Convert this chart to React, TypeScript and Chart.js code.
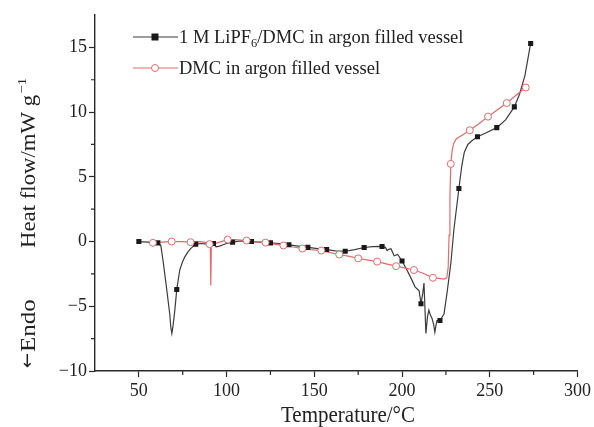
import React, { useEffect, useRef } from "react";
import { Chart, registerables } from "chart.js";

Chart.register(...registerables);

// ---- Data ----
const blackX = [50, 55, 60.8, 62.5, 63.8, 65.7, 67.6, 68.2, 68.8, 69.5, 70.5, 71.6, 73.3, 74.8, 76.1, 78, 79.5, 82.4, 86, 89, 91, 92.5, 94, 96, 98, 100, 103.4, 108, 114.2, 119, 125, 130, 135.5, 141, 146.3, 152, 157, 162, 167.6, 173, 178.4, 183, 188.6, 190.5, 191.5, 192.5, 193.7, 195.5, 197.5, 200, 202.8, 205.7, 207.4, 209.7, 210.8, 211.8, 212.5, 213.6, 214.5, 215.3, 216.2, 217, 218, 218.7, 219.3, 219.9, 221.6, 223.9, 225.6, 227.8, 229.5, 232.4, 234, 235.5, 237.5, 240, 243, 248, 254, 259, 264, 267, 270, 273.3];
const blackY = [0, -0.05, -0.1, -0.3, -1.5, -3.5, -5.6, -6.6, -7.1, -6.5, -5.3, -3.7, -2.2, -1.6, -1.2, -0.8, -0.55, -0.2, -0.15, -0.2, -0.3, -0.15, -0.4, -0.35, -0.25, -0.15, -0.05, 0.05, 0.0, -0.05, -0.1, -0.15, -0.25, -0.35, -0.45, -0.55, -0.62, -0.72, -0.75, -0.62, -0.46, -0.4, -0.38, -0.45, -0.7, -0.6, -0.55, -1.1, -1.0, -1.5, -2.2, -3.0, -3.5, -3.8, -4.8, -4.0, -3.2, -7.1, -5.8, -5.3, -5.7, -5.9, -6.4, -7.0, -6.5, -6.1, -6.1, -5.6, -4.0, -1.7, 0.85, 4.1, 5.8, 6.9, 7.5, 7.8, 8.1, 8.4, 8.8, 9.4, 10.4, 11.4, 12.8, 15.3];

const blackMarkX = [50, 60.8, 71.6, 82.4, 92.5, 103.4, 114.2, 125, 135.5, 146.3, 157, 167.6, 178.4, 188.6, 200, 210.8, 221.6, 232.4, 243, 254, 264, 273.3];
const blackMarkY = [0, -0.1, -3.7, -0.2, -0.15, -0.05, 0.0, -0.1, -0.25, -0.45, -0.62, -0.75, -0.46, -0.38, -1.5, -4.8, -6.1, 4.1, 8.1, 8.8, 10.4, 15.3];

const redX = [56, 58, 63, 68.7, 74, 79.5, 85, 89.5, 90.3, 90.7, 91.0, 91.3, 92.5, 96, 100.6, 105, 111.4, 116, 122.2, 127, 132.4, 138, 143.2, 148, 154, 159, 164.2, 170, 175, 180, 185.8, 191, 196.6, 202, 206.8, 212, 217.6, 221, 224, 225.5, 226.3, 226.8, 227.3, 227.8, 228.5, 229.5, 231, 234, 238.6, 243.8, 249, 254, 259.7, 265, 270.5];
const redY = [-0.1, -0.1, -0.05, 0.0, 0.0, -0.05, 0.0, -0.1, -0.2, -0.3, -3.4, -0.4, -0.2, -0.05, 0.15, 0.15, 0.08, 0.0, -0.08, -0.2, -0.3, -0.42, -0.54, -0.62, -0.7, -0.85, -1.0, -1.15, -1.3, -1.42, -1.55, -1.72, -1.9, -2.05, -2.2, -2.45, -2.8, -2.85, -2.9, -2.8, -2.0, 0.5, 3.5, 6.0, 7.0, 7.6, 7.95, 8.2, 8.6, 9.1, 9.65, 10.15, 10.7, 11.3, 11.9];

const redMarkX = [58, 68.7, 79.5, 90.3, 100.6, 111.4, 122.2, 132.4, 143.2, 154, 164.2, 175, 185.8, 196.6, 206.8, 217.6, 227.8, 238.6, 249, 259.7, 270.5];
const redMarkY = [-0.1, 0.0, -0.05, -0.2, 0.15, 0.08, -0.08, -0.3, -0.54, -0.7, -1.0, -1.3, -1.55, -1.9, -2.2, -2.8, 6.0, 8.6, 9.65, 10.7, 11.9];

const xMajorTicks = [50, 100, 150, 200, 250, 300];
const xMinorTicks = [75, 125, 175, 225, 275];
const yMajorTicks = [-10, -5, 0, 5, 10, 15];
const yMinorTicks = [-7.5, -2.5, 2.5, 7.5, 12.5];

const seriesNames = ["1 M LiPF", "6", "/DMC in argon filled vessel", "DMC in argon filled vessel"];
const xTitle = "Temperature/°C";
const yTitle = "Heat flow/mW g";
const yTitleSup = "\u22121";
const endoArrow = "\u2190";
const endoText = "Endo";

const BLACK = "#1a1a1a";
const LINE_BLACK = "#3c3c3c";
const RED = "#e46a6a";
const AXIS = "#2a2a2a";
const FONT = "'Liberation Serif', 'Times New Roman', serif";

const toXY = (xs: number[], ys: number[]) => xs.map((x, i) => ({ x, y: ys[i] }));

const decorPlugin = {
  id: "decor",
  afterDraw(chart: any) {
    const ctx = chart.ctx as CanvasRenderingContext2D;
    const xs = chart.scales.x;
    const ys = chart.scales.y;
    const area = chart.chartArea;
    ctx.save();
    // minor ticks
    ctx.strokeStyle = AXIS;
    ctx.lineWidth = 1.2;
    ctx.beginPath();
    xMinorTicks.forEach((v) => {
      const px = xs.getPixelForValue(v);
      ctx.moveTo(px, area.bottom);
      ctx.lineTo(px, area.bottom + 4);
    });
    yMinorTicks.forEach((v) => {
      const py = ys.getPixelForValue(v);
      ctx.moveTo(area.left, py);
      ctx.lineTo(area.left - 4, py);
    });
    ctx.stroke();

    // x title (slightly stretched vertically, like the reference)
    ctx.fillStyle = "#222";
    ctx.save();
    ctx.translate(348, 422);
    ctx.scale(1, 1.12);
    ctx.font = `21px ${FONT}`;
    ctx.textAlign = "center";
    ctx.textBaseline = "alphabetic";
    ctx.fillText(xTitle, 0, 0);
    ctx.restore();

    // y title (rotated, stretched along its length)
    ctx.save();
    ctx.translate(35, 248);
    ctx.rotate(-Math.PI / 2);
    ctx.scale(1.14, 1);
    ctx.textAlign = "left";
    ctx.textBaseline = "alphabetic";
    ctx.font = `20px ${FONT}`;
    const w1 = ctx.measureText(yTitle).width;
    ctx.fillText(yTitle, 0, 0);
    ctx.font = `13px ${FONT}`;
    ctx.fillText(yTitleSup, w1 + 1, -9);
    ctx.restore();

    // Endo label
    ctx.save();
    ctx.translate(35, 368);
    ctx.rotate(-Math.PI / 2);
    ctx.textAlign = "left";
    ctx.textBaseline = "alphabetic";
    ctx.font = `18px 'DejaVu Sans', sans-serif`;
    const wa = ctx.measureText(endoArrow).width;
    ctx.fillText(endoArrow, 0, -2);
    ctx.translate(wa + 1, 0);
    ctx.scale(1.25, 1);
    ctx.font = `20px ${FONT}`;
    ctx.fillText(endoText, 0, 0);
    ctx.restore();

    // legend
    const lx0 = 133, lx1 = 178, mx = 155, tx = 179;
    const rows = [37, 68];
    ctx.lineWidth = 1.2;
    ctx.strokeStyle = LINE_BLACK;
    ctx.beginPath();
    ctx.moveTo(lx0, rows[0]);
    ctx.lineTo(lx1, rows[0]);
    ctx.stroke();
    ctx.fillStyle = BLACK;
    ctx.fillRect(mx - 3.5, rows[0] - 3.5, 7, 7);
    ctx.strokeStyle = RED;
    ctx.beginPath();
    ctx.moveTo(lx0, rows[1]);
    ctx.lineTo(lx1, rows[1]);
    ctx.stroke();
    ctx.fillStyle = "#fff";
    ctx.beginPath();
    ctx.arc(mx, rows[1], 3.5, 0, Math.PI * 2);
    ctx.fill();
    ctx.lineWidth = 1;
    ctx.stroke();

    ctx.fillStyle = "#222";
    ctx.textAlign = "left";
    ctx.textBaseline = "alphabetic";
    ctx.font = `18.5px ${FONT}`;
    const b0 = rows[0] + 6;
    ctx.fillText(seriesNames[0], tx, b0);
    let cx = tx + ctx.measureText(seriesNames[0]).width;
    ctx.font = `12.5px ${FONT}`;
    ctx.fillText(seriesNames[1], cx, b0 + 4);
    cx += ctx.measureText(seriesNames[1]).width;
    ctx.font = `18.5px ${FONT}`;
    ctx.fillText(seriesNames[2], cx, b0);
    ctx.fillText(seriesNames[3], tx, rows[1] + 6);
    ctx.restore();
  },
};

export default function App() {
  const ref = useRef<HTMLCanvasElement>(null);
  useEffect(() => {
    if (!ref.current) return;
    const chart = new Chart(ref.current, {
      type: "scatter",
      data: {
        datasets: [
          {
            label: "red markers",
            data: toXY(redMarkX, redMarkY),
            showLine: false,
            pointStyle: "circle",
            pointRadius: 3.5,
            pointBackgroundColor: "#fff",
            pointBorderColor: RED,
            pointBorderWidth: 1,
          },
          {
            label: "black markers",
            data: toXY(blackMarkX, blackMarkY),
            showLine: false,
            pointStyle: "rect",
            pointRadius: 3.6,
            pointBackgroundColor: BLACK,
            pointBorderColor: BLACK,
            pointBorderWidth: 0,
          },
          {
            label: seriesNames[3],
            data: toXY(redX, redY),
            showLine: true,
            borderColor: RED,
            borderWidth: 1.2,
            pointRadius: 0,
            tension: 0,
          },
          {
            label: seriesNames[0] + seriesNames[1] + seriesNames[2],
            data: toXY(blackX, blackY),
            showLine: true,
            borderColor: LINE_BLACK,
            borderWidth: 1.2,
            pointRadius: 0,
            tension: 0,
          },
        ],
      },
      options: {
        responsive: false,
        animation: false,
        events: [],
        layout: { padding: { top: 15, right: 15, left: 0, bottom: 0 } },
        plugins: { legend: { display: false }, tooltip: { enabled: false }, title: { display: false } },
        scales: {
          x: {
            type: "linear",
            min: 25,
            max: 300,
            afterFit: (s: any) => { s.height = 56; },
            afterBuildTicks: (s: any) => { s.ticks = xMajorTicks.map((v) => ({ value: v })); },
            ticks: {
              color: "#222",
              font: { family: FONT, size: 18 },
              padding: 3,
              maxRotation: 0,
              callback: (v: any) => String(v),
            },
            grid: { display: true, drawOnChartArea: false, drawTicks: true, tickLength: 6, tickColor: AXIS, tickWidth: 1.2 },
            border: { display: true, color: AXIS, width: 1.4 },
          },
          y: {
            type: "linear",
            min: -10,
            max: 17.5,
            afterFit: (s: any) => { s.width = 95; },
            afterBuildTicks: (s: any) => { s.ticks = yMajorTicks.map((v) => ({ value: v })); },
            ticks: {
              color: "#222",
              font: { family: FONT, size: 18 },
              padding: 2,
              callback: (v: any) => (v < 0 ? "\u2212" + Math.abs(v) : String(v)),
            },
            grid: { display: true, drawOnChartArea: false, drawTicks: true, tickLength: 6, tickColor: AXIS, tickWidth: 1.2 },
            border: { display: true, color: AXIS, width: 1.4 },
          },
        },
      },
      plugins: [decorPlugin],
    });
    return () => chart.destroy();
  }, []);
  return (
    <div style={{ position: "absolute", left: 0, top: 0, width: 594, height: 427, background: "#fff" }}>
      <canvas ref={ref} width={594} height={427} style={{ width: 594, height: 427, display: "block" }} />
    </div>
  );
}
